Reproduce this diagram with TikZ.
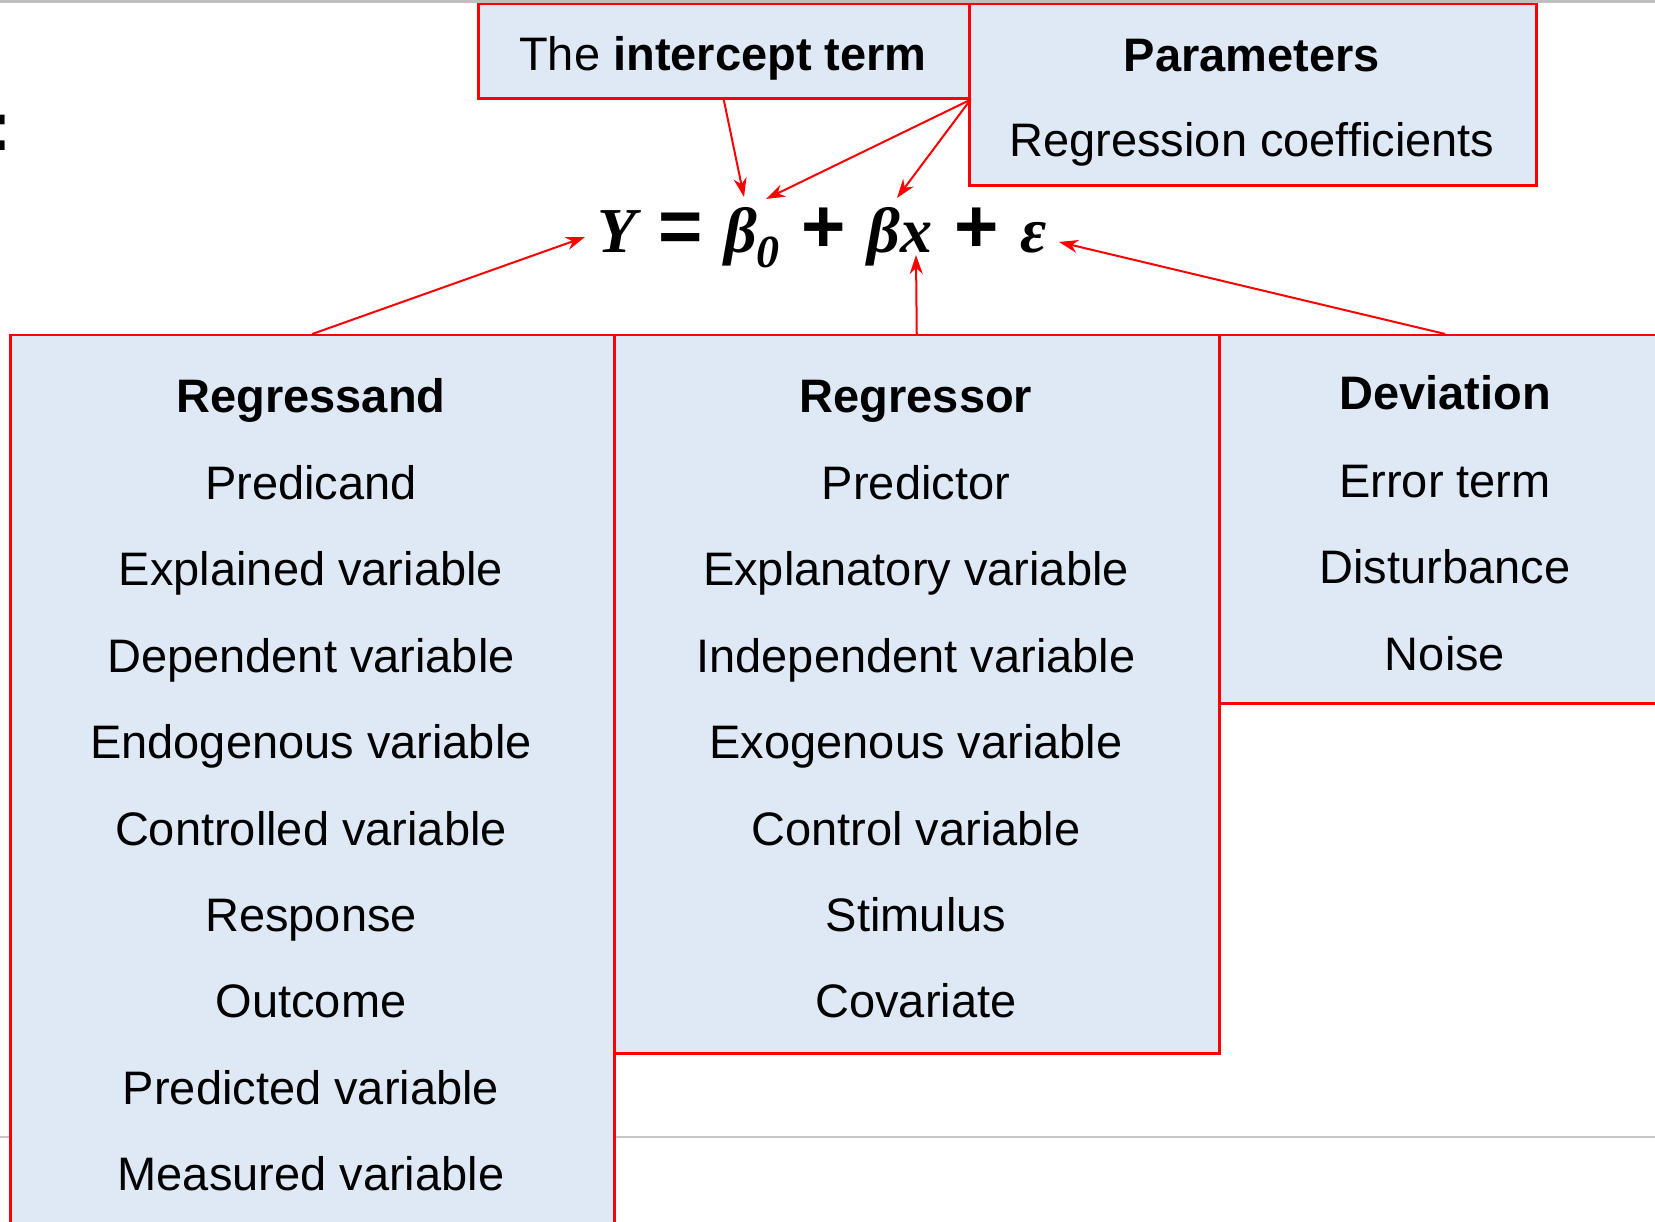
\documentclass[tikz,border=0pt]{standalone}
\usepackage{fontspec}
\setmainfont{Liberation Sans}
\newfontfamily\eqserif{Liberation Serif}
\newfontfamily\opfont{Liberation Sans}
\usetikzlibrary{arrows.meta}

\definecolor{boxblue}{HTML}{DEE9F5}
\newcommand{\termfont}{\fontsize{47}{56}\selectfont}
\newcommand{\eqfont}{\fontsize{64}{72}\selectfont\eqserif\bfseries\itshape}
\newcommand{\eqsub}[1]{\raisebox{-0.22em}{\fontsize{46}{48}\selectfont #1}}
\newcommand{\eqop}[1]{{\opfont\bfseries\upshape\fontsize{76}{80}\selectfont #1}}
\newcommand{\eqgap}{\hspace{0.34em}}

\begin{document}
\begin{tikzpicture}[
            x=1pt,
            y=-1pt,
            termbox/.style={draw=red, line width=2.5pt, fill=boxblue, inner sep=0pt, anchor=north west},
            term/.style={anchor=base, inner sep=0pt, font=\termfont},
            arr/.style={red, line width=2pt, -{Stealth[length=19pt, width=13pt, inset=6pt]}}
        ]
        \useasboundingbox (0,0) rectangle (1655,1222);

        % page rules and the cut-off colon
        \draw[black!25, line width=3pt] (0,1.5) -- (1655,1.5);
        \draw[black!22, line width=1.5pt] (0,1137) -- (1655,1137);
        \node[anchor=base east, inner sep=0pt, font=\fontsize{70}{80}\selectfont\bfseries] (colon) at (12.5,151) {:};

        % boxes
        \node[termbox, minimum width=491pt, minimum height=94.5pt] (intercept) at (477,2.7) {};
        \node[termbox, minimum width=567pt, minimum height=181.5pt] (params) at (968,2.7) {};
        \node[termbox, minimum width=604pt, minimum height=930pt] (regressand) at (9,334) {};
        \node[termbox, minimum width=605pt, minimum height=718pt] (regressor) at (613,334) {};
        \node[termbox, minimum width=452pt, minimum height=368pt] (deviation) at (1218,334) {};

        % top texts
        \node[term] (ictext) at (723,71) {The \textbf{intercept term}};
        \node[term] (partitle) at (1252,72) {\textbf{Parameters}};
        \node[term] (parcoef) at (1252,157) {Regression coefficients};

        % the model
        \node[anchor=base, inner sep=0pt, font=\eqfont] (eq) at (822,253)
            {Y\eqgap\eqop{=}\eqgap β\eqsub{0}\eqgap\eqop{+}\eqgap βx\eqgap\eqop{+}\eqgap ε};

        % left column
        \node[term] (rd0) at (311,413) {\textbf{Regressand}};
        \node[term] (rd1) at (311,499.4) {Predicand};
        \node[term] (rd2) at (311,585.8) {Explained variable};
        \node[term] (rd3) at (311,672.2) {Dependent variable};
        \node[term] (rd4) at (311,758.6) {Endogenous variable};
        \node[term] (rd5) at (311,845) {Controlled variable};
        \node[term] (rd6) at (311,931.4) {Response};
        \node[term] (rd7) at (311,1017.8) {Outcome};
        \node[term] (rd8) at (311,1104.2) {Predicted variable};
        \node[term] (rd9) at (311,1190.6) {Measured variable};

        % middle column
        \node[term] (rr0) at (916,413) {\textbf{Regressor}};
        \node[term] (rr1) at (916,499.4) {Predictor};
        \node[term] (rr2) at (916,585.8) {Explanatory variable};
        \node[term] (rr3) at (916,672.2) {Independent variable};
        \node[term] (rr4) at (916,758.6) {Exogenous variable};
        \node[term] (rr5) at (916,845) {Control variable};
        \node[term] (rr6) at (916,931.4) {Stimulus};
        \node[term] (rr7) at (916,1017.8) {Covariate};

        % right column
        \node[term] (dv0) at (1445,410) {\textbf{Deviation}};
        \node[term] (dv1) at (1445,497) {Error term};
        \node[term] (dv2) at (1445,583) {Disturbance};
        \node[term] (dv3) at (1445,670) {Noise};

        % arrow tips on the model
        \coordinate (betazero) at (744,197);
        \coordinate (betazeroside) at (766,199);
        \coordinate (beta) at (897,198);
        \coordinate (ytip) at (585,237);
        \coordinate (xtip) at (916,255);
        \coordinate (epstip) at (1059,242);

        \draw[arr] (intercept.south) -- (betazero);
        \draw[arr] (intercept.south east) -- (betazeroside);
        \draw[arr] (intercept.south east) -- (beta);
        \draw[arr] (regressand.north) -- (ytip);
        \draw[arr] (regressor.north) -- (xtip);
        \draw[arr] (deviation.north) -- (epstip);

    \end{tikzpicture}
\end{document}
